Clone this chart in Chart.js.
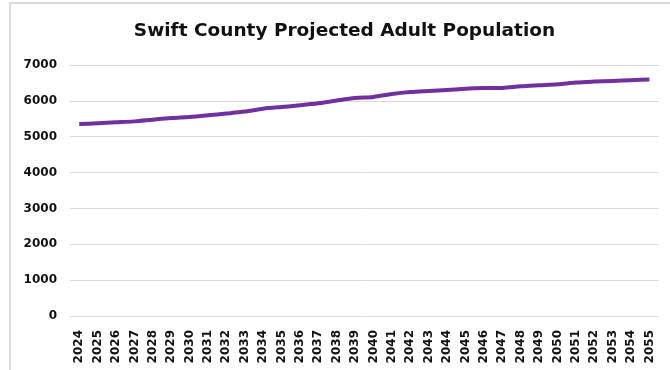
<!DOCTYPE html>
<html>
<head>
<meta charset="utf-8">
<script src="https://cdn.jsdelivr.net/npm/chart.js@4"></script>
<style>
    html, body { margin: 0; padding: 0; background: #fff; }
    .wrap { position: relative; width: 670px; height: 370px; }
    .frame {
        position: absolute; left: 9px; top: 2px; right: -5px; bottom: -5px;
        border-left: 2px solid #dadada; border-top: 2px solid #dadada;
    }
    canvas { position: absolute; left: 0; top: 0; }
</style>
</head>
<body>
<div class="wrap">
    <div class="frame"></div>
    <canvas id="popChart" width="670" height="370"></canvas>
</div>
<script>
// Data
const years = ['2024', '2025', '2026', '2027', '2028', '2029', '2030', '2031',
    '2032', '2033', '2034', '2035', '2036', '2037', '2038', '2039', '2040',
    '2041', '2042', '2043', '2044', '2045', '2046', '2047', '2048', '2049',
    '2050', '2051', '2052', '2053', '2054', '2055'];
const adultPop = [5358, 5380, 5405, 5432, 5480, 5525, 5555, 5600, 5650, 5705,
    5785, 5835, 5880, 5935, 6015, 6085, 6115, 6195, 6250, 6280, 6308, 6345,
    6362, 6365, 6410, 6440, 6468, 6515, 6542, 6562, 6582, 6600];
const yTicks = [0, 1000, 2000, 3000, 4000, 5000, 6000, 7000];

const font = "'DejaVu Sans', sans-serif";

// nudge the title a bit right, it is centred on the plot in the original
const titleShift = {
    id: 'titleShift',
    afterLayout(chart) {
        if (chart.titleBlock) {
            chart.titleBlock.left += 10;
            chart.titleBlock.right += 10;
        }
    }
};

document.addEventListener('DOMContentLoaded', () => {
    const ctx = document.getElementById('popChart');
    new Chart(ctx, {
        type: 'line',
        data: {
            labels: years,
            datasets: [{
                label: 'Adult Population',
                data: adultPop,
                borderColor: '#7030A0',
                borderWidth: 4,
                pointRadius: 0,
                tension: 0.3,
                fill: false
            }]
        },
        options: {
            responsive: false,
            animation: false,
            layout: { padding: { left: 9, right: 10, top: 0, bottom: 0 } },
            plugins: {
                legend: { display: false },
                tooltip: { enabled: false },
                title: {
                    display: true,
                    text: 'Swift County Projected Adult Population',
                    color: '#111',
                    font: { family: font, size: 18.5, weight: 'bold' },
                    padding: { top: 20, bottom: 23 }
                }
            },
            scales: {
                x: {
                    offset: true,
                    grid: { display: false },
                    border: { display: false },
                    ticks: {
                        autoSkip: false,
                        minRotation: 90,
                        maxRotation: 90,
                        padding: 6,
                        color: '#111',
                        font: { family: font, size: 12, weight: 'bold' }
                    },
                    afterFit: (scale) => { scale.height = 54; }
                },
                y: {
                    min: 0,
                    max: 7000,
                    afterBuildTicks: (scale) => {
                        scale.ticks = yTicks.map(v => ({ value: v }));
                    },
                    grid: { color: '#d9d9d9', lineWidth: 1, drawTicks: false },
                    border: { display: false },
                    ticks: {
                        padding: 13,
                        color: '#111',
                        font: { family: font, size: 12, weight: 'bold' },
                        callback: (v) => String(v)
                    },
                    afterFit: (scale) => { scale.width = 61; }
                }
            }
        },
        plugins: [titleShift]
    });
});
</script>
</body>
</html>
